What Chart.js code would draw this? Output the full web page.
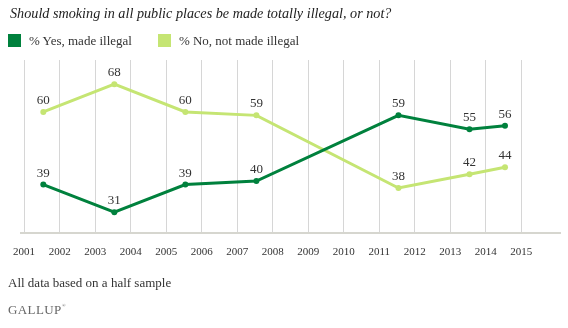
<!DOCTYPE html>
<html>
<head>
<meta charset="utf-8">
<script src="https://cdn.jsdelivr.net/npm/chart.js@4.4.1/dist/chart.umd.min.js"></script>
<style>
  html, body { margin: 0; padding: 0; background: #fff; }
  #wrap { position: relative; width: 568px; height: 328px; overflow: hidden; font-family: "Liberation Serif", serif; color: #333; }
  #chart { position: absolute; left: 0; top: 0; }
  .txt { position: absolute; line-height: 1; white-space: nowrap; }
  #title { left: 10px; top: 6px; font-size: 14.2px; font-style: italic; color: #222; }
  #legend { left: 8px; top: 34px; font-size: 13px; }
  #legend span.item { display: inline-block; margin-right: 26px; }
  #legend i { display: inline-block; width: 13px; height: 13px; vertical-align: -2px; margin-right: 8px; }
  #note { left: 8px; top: 276px; font-size: 13px; }
  #logo { left: 8px; top: 303px; font-size: 13px; color: #666; letter-spacing: 0.4px; }
  #logo sup { font-size: 5px; vertical-align: 7px; letter-spacing: 0; }
</style>
</head>
<body>
<div id="wrap">
  <canvas id="chart" width="568" height="328"></canvas>
  <div class="txt" id="title">Should smoking in all public places be made totally illegal, or not?</div>
  <div class="txt" id="legend"></div>
  <div class="txt" id="note">All data based on a half sample</div>
  <div class="txt" id="logo">GALLUP<sup>®</sup></div>
</div>
<script>
  // poll dates (fraction of year, polls taken in July)
  const pollDates = [2001.54, 2003.54, 2005.54, 2007.54, 2011.54, 2013.54, 2014.54];
  const yesValues = [39, 31, 39, 40, 59, 55, 56];
  const noValues = [60, 68, 60, 59, 38, 42, 44];
  const tickYears = [2001, 2002, 2003, 2004, 2005, 2006, 2007, 2008, 2009, 2010, 2011, 2012, 2013, 2014, 2015];
  const seriesNames = ["% Yes, made illegal", "% No, not made illegal"];
  const seriesColors = ["#00813d", "#c5e573"];

  const toPoints = (vals) => vals.map((v, i) => ({ x: pollDates[i], y: v }));

  // legend built from the series
  document.getElementById("legend").innerHTML = seriesNames
    .map((n, i) => `<span class="item"><i style="background:${seriesColors[i]}"></i>${n}</span>`)
    .join("");

  const valueLabels = {
    id: "valueLabels",
    afterDatasetsDraw(chart) {
      const ctx = chart.ctx;
      ctx.save();
      ctx.font = '13px "Liberation Serif"';
      ctx.fillStyle = "#333";
      ctx.textAlign = "center";
      ctx.textBaseline = "alphabetic";
      chart.data.datasets.forEach((ds, di) => {
        chart.getDatasetMeta(di).data.forEach((pt, i) => {
          ctx.fillText(String(ds.data[i].y), pt.x, pt.y - 8);
        });
      });
      ctx.restore();
    },
  };

  const makeSet = (label, vals, color) => ({
    label,
    data: toPoints(vals),
    borderColor: color,
    backgroundColor: color,
    pointBackgroundColor: color,
    pointBorderColor: color,
    borderWidth: 3,
    pointRadius: 3,
    pointBorderWidth: 0,
    tension: 0,
  });

  new Chart(document.getElementById("chart"), {
    type: "line",
    data: {
      datasets: [
        makeSet(seriesNames[0], yesValues, seriesColors[0]),
        makeSet(seriesNames[1], noValues, seriesColors[1]),
      ],
    },
    options: {
      responsive: false,
      animation: false,
      layout: { padding: { left: 18.4, right: 7.6, top: 60, bottom: 65 } },
      plugins: { legend: { display: false }, tooltip: { enabled: false } },
      scales: {
        x: {
          type: "linear",
          min: 2000.9,
          max: 2016.1,
          afterBuildTicks: (s) => { s.ticks = tickYears.map(v => ({ value: v })); },
          afterFit: (s) => { s.height = 30; },
          ticks: {
            autoSkip: false,
            maxRotation: 0,
            padding: 13,
            color: "#333",
            font: { family: "Liberation Serif", size: 11 },
            callback: (v) => String(v),
          },
          grid: { color: "#d6d6d6", lineWidth: 1, drawTicks: false },
          border: { display: true, color: "#d6d6cf", width: 2 },
        },
        y: {
          display: false,
          min: 25,
          max: 75,
        },
      },
    },
    plugins: [valueLabels],
  });
</script>
</body>
</html>
